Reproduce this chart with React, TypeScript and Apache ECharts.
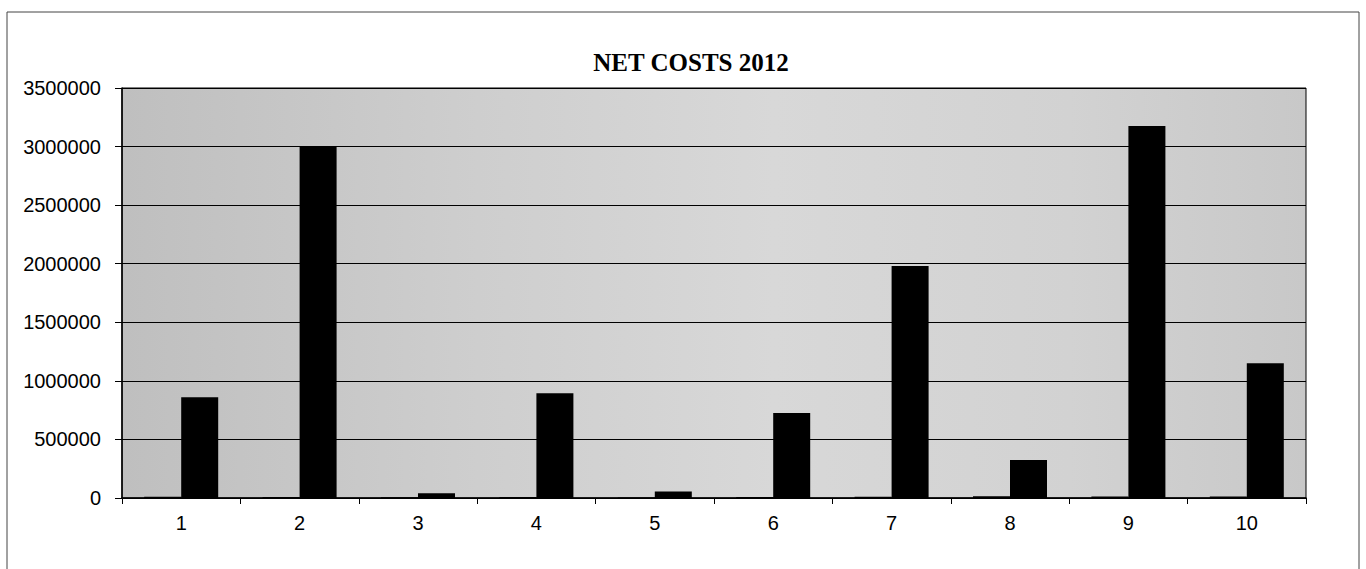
import React, { useEffect, useRef } from "react";
import * as echarts from "echarts";

// Categories along the x axis
const categories: string[] = ["1", "2", "3", "4", "5", "6", "7", "8", "9", "10"];

// Leading series: near-zero amounts sitting on the baseline
const minorCosts: number[] = [10000, 9000, 6000, 8000, 5000, 9000, 10000, 14000, 12000, 12000];

// Net costs per category
const netCosts: number[] = [860000, 3000000, 40000, 895000, 55000, 725000, 1980000, 325000, 3175000, 1150000];

// Value-axis range
const yMin = 0;
const yMax = 3500000;
const yStep = 500000;

const chartTitle = "NET COSTS 2012";

export default function App() {
  const ref = useRef<HTMLDivElement | null>(null);

  useEffect(() => {
    if (!ref.current) return;
    const chart = echarts.init(ref.current, undefined, { renderer: "svg" });

    const sansFont = "'Liberation Sans', Arial, sans-serif";

    chart.setOption({
      animation: false,
      backgroundColor: "#ffffff",
      title: {
        text: chartTitle,
        left: 686,
        top: 45,
        textAlign: "center",
        textStyle: {
          fontFamily: "'Liberation Serif', 'Times New Roman', serif",
          fontWeight: "bold",
          fontSize: 25,
          color: "#000",
        },
      },
      graphic: [
        {
          type: "rect",
          shape: { x: 7, y: 12, width: 1352, height: 600 },
          style: { fill: "none", stroke: "#444", lineWidth: 1 },
          silent: true,
          z: -10,
        },
      ],
      grid: {
        left: 122,
        right: 60,
        top: 88,
        bottom: 71,
        show: true,
        borderColor: "#000",
        borderWidth: 1,
        backgroundColor: {
          type: "linear",
          x: 0,
          y: 0,
          x2: 1,
          y2: 0,
          colorStops: [
            { offset: 0, color: "#bfbfbf" },
            { offset: 0.3, color: "#cecece" },
            { offset: 0.55, color: "#d8d8d8" },
            { offset: 0.8, color: "#d2d2d2" },
            { offset: 1, color: "#c8c8c8" },
          ],
        },
      },
      xAxis: {
        type: "category",
        data: categories,
        boundaryGap: true,
        axisLine: { show: true, lineStyle: { color: "#000", width: 1.5 } },
        axisTick: { show: true, length: 6, lineStyle: { color: "#000" } },
        axisLabel: {
          margin: 15,
          fontFamily: sansFont,
          fontSize: 20,
          color: "#000",
        },
        splitLine: { show: false },
      },
      yAxis: {
        type: "value",
        min: yMin,
        max: yMax,
        interval: yStep,
        axisLine: { show: true, lineStyle: { color: "#000", width: 1.5 } },
        axisTick: { show: true, length: 7, lineStyle: { color: "#000" } },
        axisLabel: {
          margin: 21,
          fontFamily: sansFont,
          fontSize: 20,
          color: "#000",
          formatter: (v: number) => String(v),
        },
        splitLine: { show: true, lineStyle: { color: "#000", width: 1 } },
      },
      series: [
        {
          name: "Minor",
          type: "bar",
          data: minorCosts,
          barWidth: 37,
          barGap: "0%",
          itemStyle: { color: "#000" },
        },
        {
          name: "Net costs",
          type: "bar",
          data: netCosts,
          barWidth: 37,
          barGap: "0%",
          itemStyle: { color: "#000" },
        },
      ],
    });

    return () => {
      chart.dispose();
    };
  }, []);

  return (
    <div
      ref={ref}
      style={{ position: "fixed", left: 0, top: 0, width: 1366, height: 569 }}
    />
  );
}
